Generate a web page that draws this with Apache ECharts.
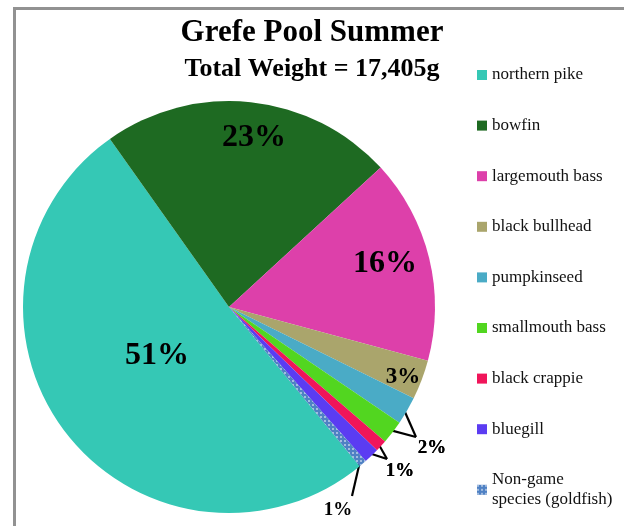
<!DOCTYPE html>
<html>
<head>
<meta charset="utf-8">
<script src="https://cdn.jsdelivr.net/npm/echarts@6/dist/echarts.min.js"></script>
<style>
html,body{margin:0;padding:0;background:#fff}
#main{width:624px;height:526px}
</style>
</head>
<body>
<div id="main"></div>
<script>
// species (legend order) and their weights in grams, total 17,405g
var species = ['northern pike', 'bowfin', 'largemouth bass', 'black bullhead', 'pumpkinseed',
	'smallmouth bass', 'black crappie', 'bluegill', 'Non-game\nspecies (goldfish)'];
var weights = [8900, 4000, 2790, 540, 380, 320, 160, 210, 105];

// looks
var colors = ['#35c8b5', '#1e6a22', '#dd40aa', '#aaa56c', '#4aabc6', '#52d620', '#f0155a', '#5b3cf2', '#4f81c4'];
var labelSpots = [[157, 356], [254, 138], [385, 264], [403, 377], [432, 448], [432, 448], [400, 471], [400, 471], [338, 510]];
var labelSizes = [32, 32, 32, 23, 19, 19, 19, 19, 19];
// where the leader line meets the label, relative to the label centre
var lineEnds = [null, null, null, null, [-16, -11], [-16, -11], [-13, -12], [-13, -12], [14, -14]];
var serif = 'Liberation Serif';
var pieCenter = [229, 307];
var pieRadius = 206;
var startAngle = 309.4;

var total = weights.reduce(function (a, b) { return a + b; }, 0);

// point on a slice's middle ray, just inside the rim
function rimPoint(i) {
	var before = 0;
	for (var k = 0; k < i; k++) before += weights[k];
	var mid = (startAngle - 360 * (before + weights[i] / 2) / total) * Math.PI / 180;
	var r = pieRadius - 4;
	return [pieCenter[0] + r * Math.cos(mid), pieCenter[1] - r * Math.sin(mid)];
}

var pieData = species.map(function (name, i) {
	var small = i >= 4;
	var item = {
		name: name,
		value: weights[i],
		itemStyle: { color: colors[i] },
		label: { position: small ? 'outside' : 'inside', fontSize: labelSizes[i] },
		labelLine: { show: small }
	};
	if (i === 8) {
		item.itemStyle.decal = {
			symbol: 'rect', symbolSize: 0.7, color: 'rgba(255,255,255,0.9)',
			dashArrayX: [2, 2], dashArrayY: [2, 2], rotation: 0
		};
	}
	return item;
});

var myChart = echarts.init(document.getElementById('main'));
var option = {
	animation: false,
	backgroundColor: '#fff',
	graphic: [{
		type: 'rect',
		shape: { x: 14.5, y: 8.5, width: 700, height: 600 },
		style: { fill: 'none', stroke: '#929292', lineWidth: 3 },
		silent: true
	}],
	title: {
		text: 'Grefe Pool Summer',
		subtext: 'Total Weight = 17,405g',
		left: 'center',
		top: 15,
		padding: 0,
		itemGap: 3,
		textStyle: { fontFamily: serif, fontWeight: 'bold', fontSize: 31, lineHeight: 36, color: '#000' },
		subtextStyle: { fontFamily: serif, fontWeight: 'bold', fontSize: 26, lineHeight: 30, color: '#000' }
	},
	legend: {
		orient: 'vertical',
		left: 477,
		top: 65,
		padding: 0,
		itemWidth: 10,
		itemHeight: 10,
		itemGap: 30.6,
		icon: 'rect',
		data: species,
		textStyle: { fontFamily: serif, fontSize: 17, lineHeight: 20, color: '#111' }
	},
	series: [{
		type: 'pie',
		center: pieCenter,
		radius: pieRadius,
		startAngle: startAngle,
		clockwise: true,
		avoidLabelOverlap: false,
		itemStyle: { borderWidth: 0 },
		label: {
			fontFamily: serif,
			fontWeight: 'bold',
			color: '#000',
			formatter: function (p) { return Math.round(p.percent) + '%'; }
		},
		labelLine: { lineStyle: { color: '#000', width: 2.2 }, length: 10, length2: 5 },
		labelLayout: function (p) {
			var i = p.dataIndex;
			var s = labelSpots[i];
			var out = { x: s[0], y: s[1], align: 'center', verticalAlign: 'middle' };
			if (lineEnds[i]) {
				var end = [s[0] + lineEnds[i][0], s[1] + lineEnds[i][1]];
				out.labelLinePoints = [rimPoint(i), end, end];
			}
			return out;
		},
		data: pieData
	}]
};
myChart.setOption(option);
</script>
</body>
</html>
